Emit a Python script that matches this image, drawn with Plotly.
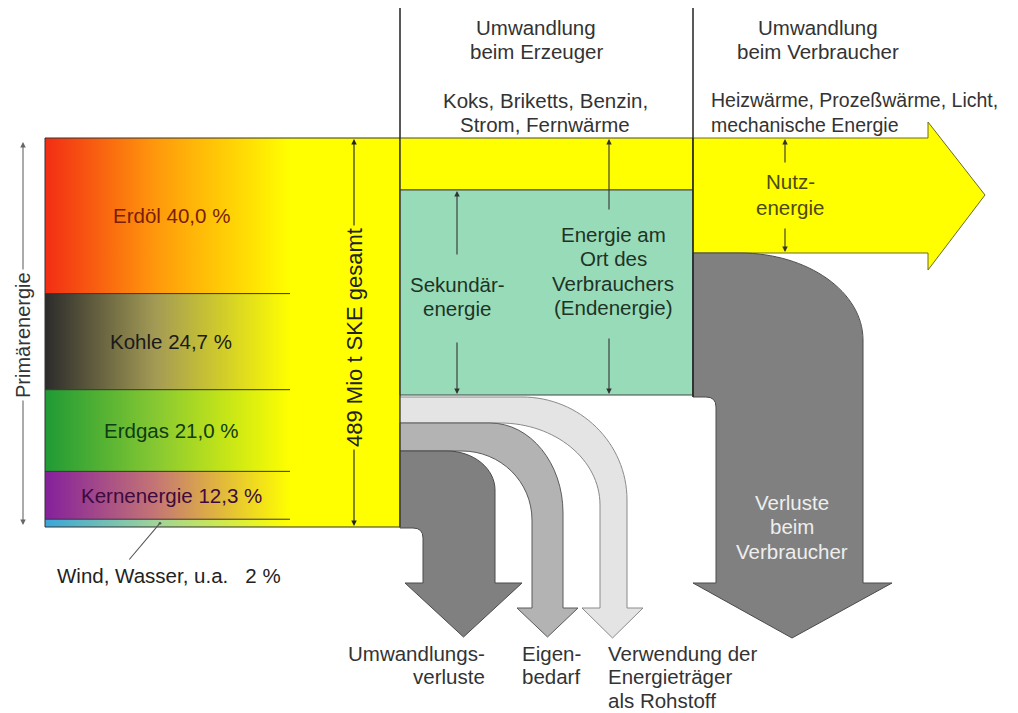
import plotly.graph_objects as go

# ---------------- data ----------------
sources = ["Erdöl", "Kohle", "Erdgas", "Kernenergie", "Wind, Wasser, u.a."]
shares = [40.0, 24.7, 21.0, 12.3, 2.0]
total_label = "489 Mio t SKE gesamt"
src_colors = ["#f22d14", "#2b2b2b", "#1f9a35", "#84209c", "#3aa6d8"]
mid_colors = ["#ff980c", "#a39a55", "#86c832", "#c47575", "#9fd39a"]
label_colors = ["#7a1e05", "#1a1a1a", "#0d3d12", "#3d0a40", "#222222"]

stage_titles = [["Umwandlung", "beim Erzeuger"], ["Umwandlung", "beim Verbraucher"]]
stage_products = [["Koks, Briketts, Benzin,", "Strom, Fernwärme"],
                  ["Heizwärme, Prozeßwärme, Licht,", "mechanische Energie"]]
flow_labels = [["Umwandlungs-", "verluste"], ["Eigen-", "bedarf"],
               ["Verwendung der", "Energieträger", "als Rohstoff"]]

FONT = "Liberation Sans, Arial, sans-serif"
FS = 20.5
GAP = 24.5

# ---------------- geometry ----------------
X0, XG, X1 = 45, 290, 400      # primary box left, gradient end, box right
YT, YB = 138, 527               # primary box top / bottom
XM = 693                        # second separator
K = 0.5523

scale = (YB - YT) / sum(shares)
bounds = [YT]
for s in shares:
    bounds.append(bounds[-1] + s * scale)

fig = go.Figure()
shapes = []
ann = []

# yellow primary box (background)
shapes.append(dict(type="rect", x0=X0, x1=X1, y0=YT, y1=YB, fillcolor="#ffff00",
                   line=dict(width=0), layer="below"))

# gradient bands
for i, (c0, cm) in enumerate(zip(src_colors, mid_colors)):
    t, b = bounds[i], bounds[i + 1]
    fig.add_trace(go.Scatter(
        x=[X0, XG, XG, X0, X0], y=[t, t, b, b, t], mode="lines",
        line=dict(width=0), fill="toself", hoverinfo="skip",
        fillgradient=dict(type="horizontal",
                          colorscale=[[0, c0], [0.45, cm], [1, "#ffff00"]])))

# band separator lines
for yb in bounds[1:-1]:
    shapes.append(dict(type="line", x0=X0, x1=XG, y0=yb, y1=yb,
                       line=dict(color="#333333", width=1)))
shapes.append(dict(type="rect", x0=X0, x1=X1, y0=YT, y1=YB,
                   line=dict(color="#333333", width=1)))

# middle section
shapes.append(dict(type="rect", x0=X1, x1=XM, y0=YT, y1=190, fillcolor="#ffff00",
                   line=dict(color="#444444", width=1)))
shapes.append(dict(type="rect", x0=X1, x1=XM, y0=190, y1=395, fillcolor="#98dbb8",
                   line=dict(color="#444444", width=1)))

# useful-energy arrow
shapes.append(dict(type="path",
                   path=f"M {XM},138 L 928,138 L 928,122 L 985,195 L 928,270 L 928,253 L {XM},253 Z",
                   fillcolor="#ffff00", line=dict(color="#6a6a30", width=1)))


def qe(x_from, y_from, x_to, y_to, horiz_first=True):
    """quarter ellipse as cubic bezier"""
    if horiz_first:
        return (f"C {x_from + K * (x_to - x_from)},{y_from} "
                f"{x_to},{y_to - K * (y_to - y_from)} {x_to},{y_to}")
    return (f"C {x_from},{y_from + K * (y_to - y_from)} "
            f"{x_to + K * (x_from - x_to)},{y_to} {x_to},{y_to}")


# big consumer-loss arrow
p = (f"M {XM},253 L 740,253 " + qe(740, 253, 863, 340) +
     f" L 863,583 L 892,583 L 792,638 L {XM},583 L 716,583 L 716,407 Q 716,397 706,397 L {XM},397 Z")
shapes.append(dict(type="path", path=p, fillcolor="#808080", line=dict(color="#4a4a4a", width=1)))

# light: Rohstoff
p = ("M 400,397 L 522,397 " + qe(522, 397, 627, 500) +
     " L 627,608 L 643,608 L 612.5,638 L 582,608 L 600,608 L 600,505 " +
     qe(600, 505, 500, 423, horiz_first=False) + " L 400,423 Z")
shapes.append(dict(type="path", path=p, fillcolor="#e4e4e4", line=dict(color="#8a8a8a", width=1)))

# medium: Eigenbedarf
p = ("M 400,423 L 490,423 " + qe(490, 423, 563, 513) +
     " L 563,608 L 578,608 L 547.5,637 L 517,608 L 532,608 L 532,520 " +
     qe(532, 520, 462, 451, horiz_first=False) + " L 400,451 Z")
shapes.append(dict(type="path", path=p, fillcolor="#b3b3b3", line=dict(color="#5a5a5a", width=1)))

# dark: Umwandlungsverluste
p = ("M 400,451 L 447,451 " + qe(447, 451, 495, 490) +
     " L 495,583 L 522,583 L 463.5,637 L 405,583 L 423,583 L 423,538 Q 423,528 413,528 L 400,528 Z")
shapes.append(dict(type="path", path=p, fillcolor="#808080", line=dict(color="#4a4a4a", width=1)))

# yellow box right edge again on top
shapes.append(dict(type="line", x0=X1, x1=X1, y0=YT, y1=YB, line=dict(color="#333333", width=1)))

# separators
shapes.append(dict(type="line", x0=X1, x1=X1, y0=8, y1=YT, line=dict(color="#222222", width=1.5)))
shapes.append(dict(type="line", x0=XM, x1=XM, y0=8, y1=397, line=dict(color="#222222", width=1.5)))


def arrow(xh, yh, xt, yt, color="#333333", width=1.1, head=2, size=1.0):
    return dict(x=xh, y=yh, ax=xt, ay=yt, xref="x", yref="y", axref="x", ayref="y",
                showarrow=True, arrowhead=head, arrowsize=size, arrowwidth=width,
                arrowcolor=color, text="", standoff=0, startstandoff=0)


def txt(x, y, text, color="#222222", size=FS, xanchor="center", angle=0, bg=None):
    d = dict(x=x, y=y, xref="x", yref="y", text=text, showarrow=False, xanchor=xanchor,
             yanchor="middle", textangle=angle,
             font=dict(family=FONT, size=size, color=color))
    if bg:
        d["bgcolor"] = bg
        d["borderpad"] = 2
    return d


def lines(x, y0, rows, gap=GAP, **kw):
    for j, row in enumerate(rows):
        ann.append(txt(x, y0 + j * gap, row, **kw))


# band labels
for i in range(4):
    val = f"{shares[i]:.1f}".replace(".", ",")
    ann.append(txt(171, (bounds[i] + bounds[i + 1]) / 2, f"{sources[i]} {val} %",
                   color=label_colors[i]))

# wind label + pointer
ann.append(arrow(160, bounds[-2] + 4, 128, 561, color="#555555", head=6, size=0.6))
ann.append(txt(55, 575, f"{sources[4]}\u00a0\u00a0\u00a0{shares[4]:.0f} %", xanchor="left"))

# Primärenergie double arrow
ann.append(arrow(23, 142, 23, 335, color="#666666"))
ann.append(arrow(23, 525, 23, 335, color="#666666"))
ann.append(txt(23, 335, "Primärenergie", angle=-90, bg="#ffffff", color="#333333", size=20))

# total double arrow
ann.append(arrow(354, YT + 1, 354, 338, color="#222222"))
ann.append(arrow(354, YB - 1, 354, 338, color="#222222"))
ann.append(txt(354, 338, total_label, angle=-90, bg="#ffff00", color="#222222", size=22))

# stage titles / products
lines(536, 27, stage_titles[0], color="#333333")
lines(818, 27, stage_titles[1], color="#333333")
lines(545, 100, stage_products[0], color="#333333")
lines(709, 100, stage_products[1], color="#333333", xanchor="left", size=19.5)

# secondary / final energy
ann.append(arrow(457, 191, 457, 256))
ann.append(arrow(457, 394, 457, 341))
lines(457, 284, ["Sekundär-", "energie"], color="#1e3326")
ann.append(arrow(609, 139, 609, 211))
ann.append(arrow(609, 394, 609, 337))
lines(613, 234, ["Energie am", "Ort des", "Verbrauchers", "(Endenergie)"], color="#1e3326")

# useful energy
ann.append(arrow(785, 139, 785, 164))
ann.append(arrow(785, 252, 785, 227))
lines(790, 181, ["Nutz-", "energie"], gap=26, color="#4d4a10")

# consumer losses
lines(792, 502, ["Verluste", "beim", "Verbraucher"], color="#eeeeee")

# bottom flow labels
lines(487, 653, flow_labels[0], gap=23.5, xanchor="right", color="#333333")
lines(520, 653, flow_labels[1], gap=23.5, xanchor="left", color="#333333")
lines(606, 653, flow_labels[2], gap=23.5, xanchor="left", color="#333333")

# page body has an 8px margin: shift the data window so data units equal window pixels
fig.update_layout(
    width=1010, height=705, margin=dict(l=0, r=0, t=0, b=0),
    paper_bgcolor="white", plot_bgcolor="white", showlegend=False,
    xaxis=dict(range=[8, 1018], visible=False, fixedrange=True),
    yaxis=dict(range=[713, 8], visible=False, fixedrange=True),
    shapes=shapes, annotations=ann,
)

fig.write_html("out.html")
